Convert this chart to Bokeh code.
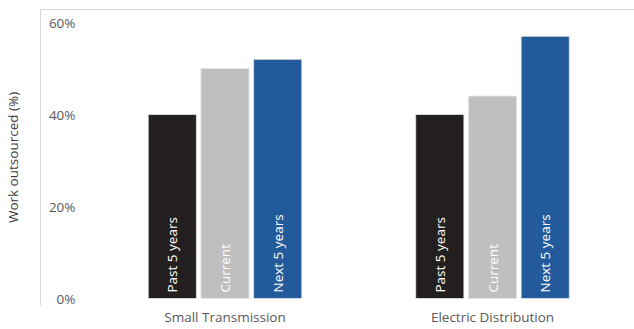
import math
from bokeh.plotting import figure
from bokeh.models import ColumnDataSource, FixedTicker, LinearAxis, Range1d, PrintfTickFormatter
from bokeh.core.properties import value
from bokeh.embed import file_html
from bokeh.resources import INLINE

categories = ["Small Transmission", "Electric Distribution"]
series = ["Past 5 years", "Current", "Next 5 years"]
past = [40, 40]
current = [50, 44]
nxt = [52, 57]
y_ticks = [0, 20, 40, 60]

colors = ["#231f20", "#bfbfbf", "#225a9b"]
offsets = [-0.197, 0.0, 0.197]
bar_w = 0.18

FONT = "Open Sans"

p = figure(width=634, height=329, output_backend="svg", toolbar_location=None,
           x_range=Range1d(-0.6897, 1.5308), y_range=Range1d(-1.52, 62.83),
           min_border_left=40, min_border_right=0, min_border_top=9, min_border_bottom=24,
           x_axis_location=None, y_axis_location=None)
p.outline_line_color = None
p.xgrid.visible = False
p.ygrid.visible = False
p.background_fill_color = "white"
p.border_fill_color = "white"

for vals, col, off, name in zip([past, current, nxt], colors, offsets, series):
    xs = [i + off for i in range(len(categories))]
    src = ColumnDataSource(dict(x=xs, top=vals, lab=[name] * len(vals)))
    p.vbar(x="x", top="top", bottom=0, width=bar_w, source=src,
           fill_color=col, line_color="#e6e6e6", line_width=0.8)
    p.text(x="x", y=1.3, text="lab", source=src, angle=math.pi / 2,
           text_align="left", text_baseline="middle", text_color="white",
           text_font=value(FONT), text_font_size="13.5px")

# y axis: line at frame left, labels inside
yax = LinearAxis(ticker=FixedTicker(ticks=y_ticks), formatter=PrintfTickFormatter(format="%d%%"))
yax.axis_line_color = "#d9d9d9"
yax.major_tick_line_color = None
yax.minor_tick_line_color = None
yax.major_tick_out = 0
yax.major_tick_in = 0
yax.minor_tick_out = 0
yax.major_label_standoff = -35
yax.major_label_text_font = FONT
yax.major_label_text_font_size = "13.5px"
yax.major_label_text_color = "#595959"
yax.axis_label = "Work outsourced (%)"
yax.axis_label_text_font = FONT
yax.axis_label_text_font_size = "13.5px"
yax.axis_label_text_font_style = "normal"
yax.axis_label_text_color = "#404040"
yax.axis_label_standoff = 24
p.add_layout(yax, "left")

# top border line
tax = LinearAxis(ticker=FixedTicker(ticks=[]))
tax.axis_line_color = "#d9d9d9"
tax.major_tick_line_color = None
tax.minor_tick_line_color = None
tax.major_tick_out = 0
tax.minor_tick_out = 0
tax.major_label_text_font_size = "0px"
p.add_layout(tax, "above")

# category axis
xax = LinearAxis(ticker=FixedTicker(ticks=list(range(len(categories)))))
xax.major_label_overrides = {i: c for i, c in enumerate(categories)}
xax.axis_line_color = None
xax.major_tick_line_color = None
xax.minor_tick_line_color = None
xax.major_tick_out = 0
xax.major_tick_in = 0
xax.minor_tick_out = 0
xax.major_label_standoff = 2
xax.major_label_text_font = FONT
xax.major_label_text_font_size = "13.5px"
xax.major_label_text_color = "#595959"
p.add_layout(xax, "below")

open("out.html", "w").write(file_html(p, INLINE))
